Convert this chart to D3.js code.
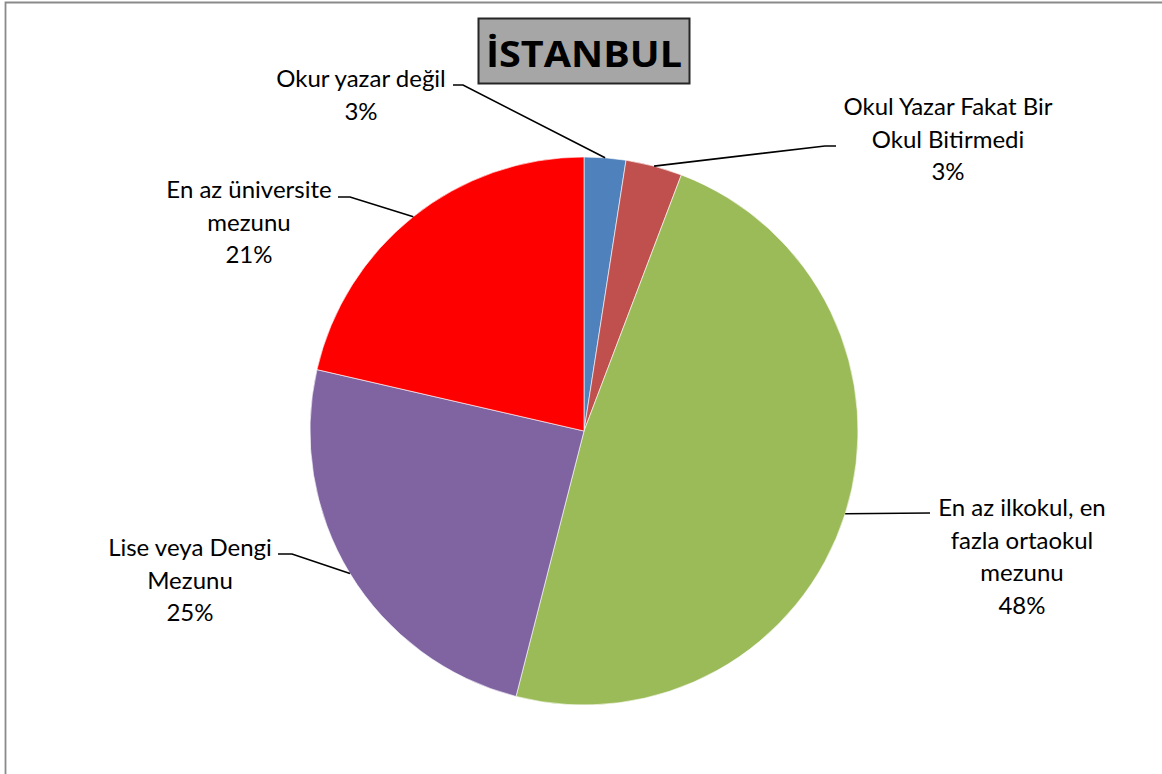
<!DOCTYPE html>
<html>
<head>
<meta charset="utf-8">
<script src="https://cdn.jsdelivr.net/npm/d3@7"></script>
<style>
  html, body { margin: 0; padding: 0; background: #fff; }
  svg { display: block; }
</style>
</head>
<body>
<script>
// ---- data ----
const categories = [
  "Okur yazar değil",
  "Okul Yazar Fakat Bir Okul Bitirmedi",
  "En az ilkokul, en fazla ortaokul mezunu",
  "Lise veya Dengi Mezunu",
  "En az üniversite mezunu"
];
const values = [2.45, 3.33, 48.2, 24.6, 21.4];
const percentLabels = ["3%", "3%", "48%", "25%", "21%"];
const labelLines = [
  ["Okur yazar değil"],
  ["Okul Yazar Fakat Bir", "Okul Bitirmedi"],
  ["En az ilkokul, en", "fazla ortaokul", "mezunu"],
  ["Lise veya Dengi", "Mezunu"],
  ["En az üniversite", "mezunu"]
];
const colors = ["#4f81bd", "#c0504d", "#9bbb59", "#8064a2", "#ff0000"];
const title = "İSTANBUL";

// ---- layout (positions separate from data) ----
const W = 1162, H = 774;
const cx = 584, cy = 431, R = 274;
const labelLayout = [
  { x: 361, y: 87,  elbow: [[463, 85], [453, 85]] },
  { x: 948, y: 115, elbow: [[825, 146], [836, 146]] },
  { x: 1022, y: 516, elbow: [[930, 513]] },
  { x: 190, y: 556, elbow: [[292, 554], [278, 554]] },
  { x: 249, y: 198, elbow: [[350, 197], [338, 197]] }
];
const lineH = 32.5;

const svg = d3.select("body").append("svg")
  .attr("width", W).attr("height", H);

// outer frame
svg.append("path")
  .attr("d", `M5.5,${H + 5} L5.5,2.5 L${W + 5},2.5`)
  .attr("fill", "none").attr("stroke", "#8a8a8a").attr("stroke-width", 1.8);

const pie = d3.pie().sort(null).value(d => d);
const arcs = pie(values);
const arc = d3.arc().innerRadius(0).outerRadius(R);
const edge = d3.arc().innerRadius(R).outerRadius(R);

const g = svg.append("g").attr("transform", `translate(${cx},${cy})`);
g.selectAll("path.slice").data(arcs).join("path")
  .attr("class", "slice")
  .attr("d", arc)
  .attr("fill", (d, i) => colors[i])
  .attr("stroke", "#ffffff").attr("stroke-width", 0.6);

// leader lines
arcs.forEach((d, i) => {
  const c = edge.centroid(d);
  const pts = [[cx + c[0], cy + c[1]], ...labelLayout[i].elbow];
  svg.append("path")
    .attr("d", d3.line()(pts))
    .attr("fill", "none").attr("stroke", "#000").attr("stroke-width", 1.6);
});

// labels
const font = "Lato, 'Open Sans', sans-serif";
arcs.forEach((d, i) => {
  const L = labelLayout[i];
  const lines = labelLines[i].concat([percentLabels[i]]);
  const t = svg.append("text")
    .attr("text-anchor", "middle")
    .attr("font-family", font)
    .attr("font-size", 24)
    .attr("fill", "#000");
  lines.forEach((s, k) => {
    t.append("tspan").attr("x", L.x).attr("y", L.y + k * lineH).text(s);
  });
});

// title box
svg.append("rect")
  .attr("x", 478.5).attr("y", 18.5).attr("width", 211).attr("height", 65)
  .attr("fill", "#a6a6a6").attr("stroke", "#262626").attr("stroke-width", 2);
svg.append("text")
  .attr("x", 584).attr("y", 67)
  .attr("text-anchor", "middle")
  .attr("font-family", "'Open Sans', 'Liberation Sans', sans-serif")
  .attr("font-weight", "bold")
  .attr("font-size", 36)
  .attr("textLength", 196).attr("lengthAdjust", "spacingAndGlyphs")
  .attr("fill", "#000")
  .text(title);
</script>
</body>
</html>
